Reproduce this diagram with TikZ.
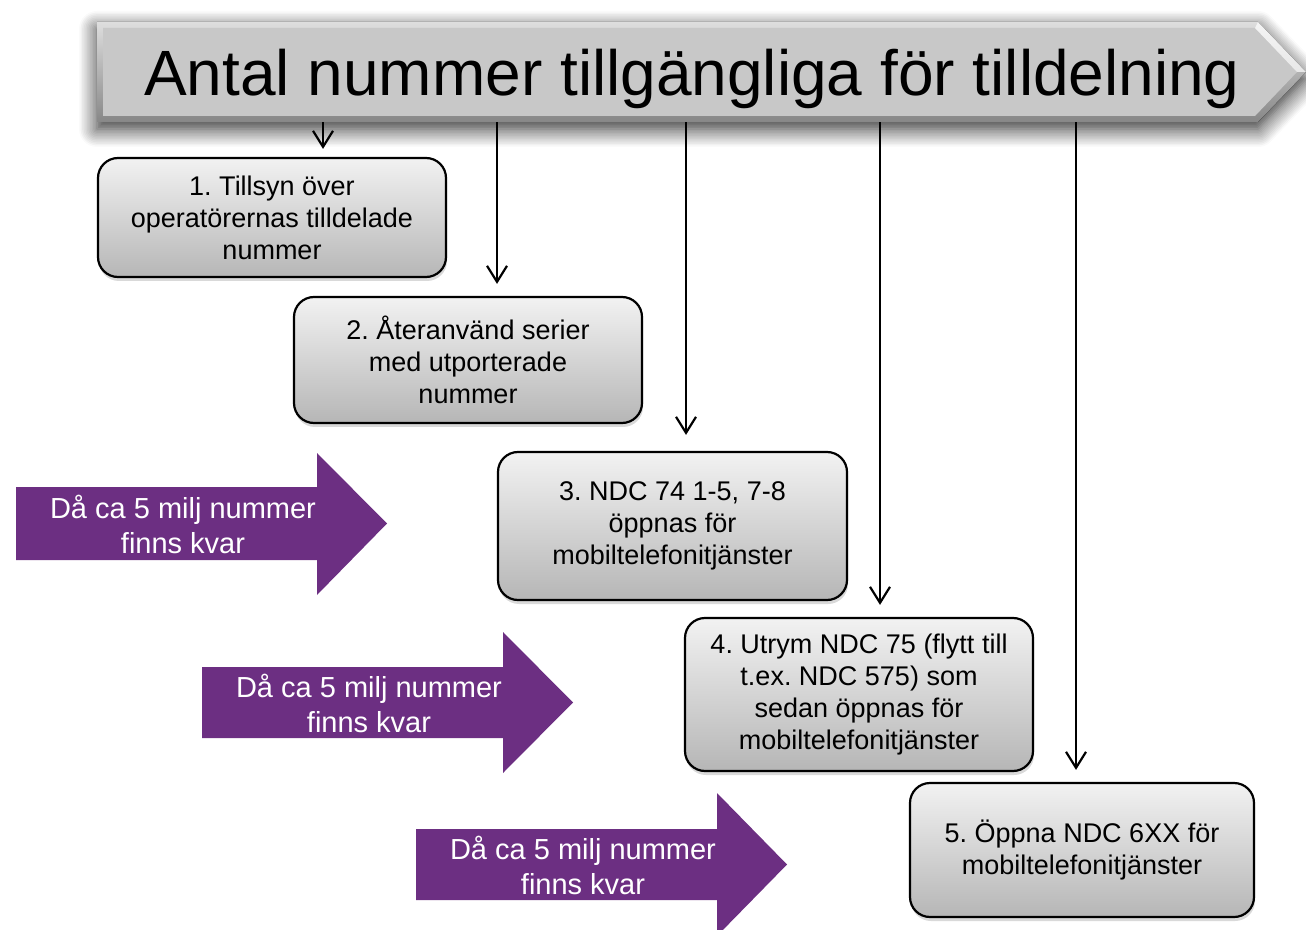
\documentclass[tikz,border=0pt]{standalone}
\usepackage{fontspec}
\setmainfont{Liberation Sans}
\usetikzlibrary{arrows.meta,shadows,shadows.blur}
\definecolor{lila}{RGB}{108,47,130}
\definecolor{ljus}{RGB}{242,242,242}
\definecolor{mork}{RGB}{182,182,182}
\definecolor{bannergra}{RGB}{200,200,200}
\definecolor{bannerljus}{RGB}{222,222,222}
\definecolor{bannermork}{RGB}{135,135,135}
\frenchspacing

\begin{document}
\begin{tikzpicture}[x=0.5pt,y=-0.5pt,
	ruta/.style={rectangle,rounded corners=10pt,draw=black,line width=1.1pt,top color=ljus,bottom color=mork,align=center,font=\fontsize{13.5}{16}\selectfont,drop shadow={opacity=0.3,shadow xshift=0.5pt,shadow yshift=-2pt}},
	pil/.style={line width=1.1pt,-{Straight Barb[length=8pt,width=10pt,line width=1.1pt]},shorten >=6pt},
	pil text/.style={text=white,align=center,font=\fontsize{14.5}{17.5}\selectfont}]
			\useasboundingbox (0,0) rectangle (1306,930);
			% banner
			\fill[blur shadow={shadow blur steps=12,shadow xshift=0pt,shadow yshift=-3.5pt,shadow blur radius=9pt,shadow opacity=85},top color=bannerljus,bottom color=bannermork] (97,22) -- (1258,22) -- (1306,72) -- (1258,122) -- (97,122) -- cycle;
			\fill[bannergra] (103,28) -- (1255,28) -- (1297,72) -- (1255,116) -- (103,116) -- cycle;
			\fill[white,opacity=0.7] (1258,22) -- (1306,72) -- (1297,72) -- (1255,28) -- cycle;
			\node[minimum width=580.5pt,minimum height=50pt,text depth=0pt,font=\fontsize{32}{38}\selectfont] (titel) at (677.5,72) {\hspace{14.5pt}Antal nummer tillgängliga för tilldelning};
			% steg
			\node[ruta,minimum width=174pt,minimum height=59.5pt] (ruta1) at (272,217.5) {1. Tillsyn över\\operatörernas tilldelade\\nummer};
			\node[ruta,minimum width=174pt,minimum height=63pt] (ruta2) at (468,360) {2. Återanvänd serier\\med utporterade\\nummer};
			\node[ruta,minimum width=174.5pt,minimum height=74pt] (ruta3) at (672.5,526) {3. NDC 74 1-5, 7-8\\öppnas för\\mobiltelefonitjänster};
			\node[ruta,minimum width=174pt,minimum height=76.5pt] (ruta4) at (859,694.5) {4. Utrym NDC 75 (flytt till\\t.ex. NDC 575) som\\sedan öppnas för\\mobiltelefonitjänster};
			\node[ruta,minimum width=172pt,minimum height=67pt] (ruta5) at (1082,850) {5. Öppna NDC 6XX för\\mobiltelefonitjänster};
			% pilar nedat
			\coordinate (x1) at (323,0);
			\coordinate (x2) at (497,0);
			\coordinate (x3) at (686,0);
			\coordinate (x4) at (880,0);
			\coordinate (x5) at (1076,0);
			\draw[pil,shorten >=4pt] (titel.south -| x1) -- (ruta1.north -| x1);
			\draw[pil] (titel.south -| x2) -- (ruta2.north -| x2);
			\draw[pil,shorten >=8pt] (titel.south -| x3) -- (ruta3.north -| x3);
			\draw[pil] (titel.south -| x4) -- (ruta4.north -| x4);
			\draw[pil] (titel.south -| x5) -- (ruta5.north -| x5);
			% lila pilar
			\fill[lila] (16,487) -- (317,487) -- (317,453) -- (387,523.5) -- (317,595) -- (317,560) -- (16,560) -- cycle;
			\node[pil text] (d1) at (183,524) {Då ca 5 milj nummer\\finns kvar};
			\fill[lila] (202,667) -- (503,667) -- (503,632) -- (573,702.5) -- (503,773) -- (503,738) -- (202,738) -- cycle;
			\node[pil text] (d2) at (369,703) {Då ca 5 milj nummer\\finns kvar};
			\fill[lila] (416,829) -- (717,829) -- (717,793) -- (787,864.5) -- (717,936) -- (717,900) -- (416,900) -- cycle;
			\node[pil text] (d3) at (583,865) {Då ca 5 milj nummer\\finns kvar};
		\end{tikzpicture}
\end{document}
